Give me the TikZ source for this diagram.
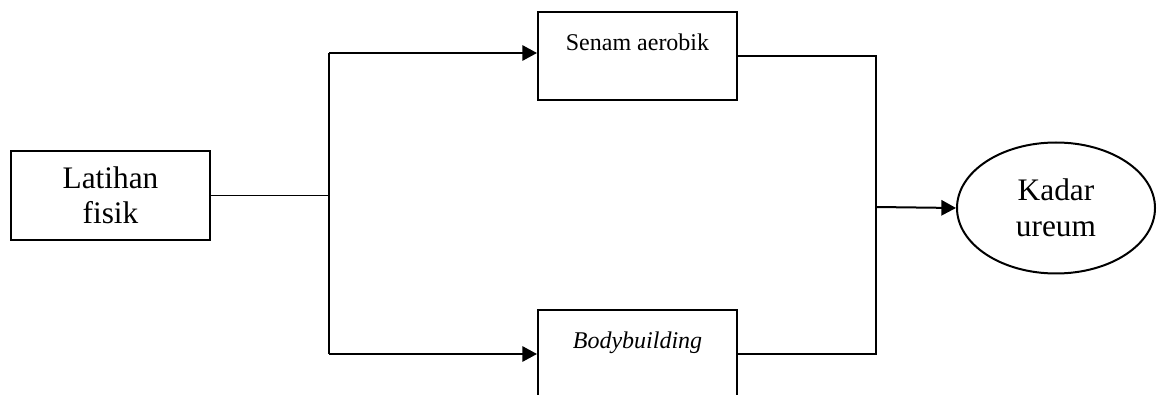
\documentclass[tikz,border=0pt]{standalone}
\usepackage{fontspec}
\setmainfont{Liberation Serif}
\usetikzlibrary{calc,positioning,shapes.geometric,arrows.meta}
\tikzset{
    box/.style={
        draw,
        rectangle,
        line width=1.5pt,
        minimum width=149.25pt,
        minimum height=66.75pt,
        inner sep=0pt,
        align=center,
        font=\fontsize{23.5pt}{26.6pt}\selectfont
    },
    topbox/.style={
        draw,
        rectangle,
        line width=1.5pt,
        minimum width=149.25pt,
        inner sep=0pt,
        text height=29.25pt,
        text depth=36.75pt,
        font=\fontsize{18pt}{21pt}\selectfont
    },
    oval/.style={
        draw,
        ellipse,
        line width=1.5pt,
        minimum width=148.5pt,
        minimum height=98.25pt,
        inner sep=0pt,
        align=center,
        font=\fontsize{23.5pt}{27pt}\selectfont
    },
    link/.style={line width=0.8pt},
    feed/.style={->,line width=1.5pt}
}

\begin{document}
\begin{tikzpicture}[x=0.75pt,y=-0.75pt,>={Triangle[length=11pt,width=11.5pt]}]
        \useasboundingbox (0,0) rectangle (1157,395);

        \node[box] (Latihan) at (110.5,195.5) {Latihan\\fisik};

            \node[topbox,above right=36.75pt and 244.5pt of Latihan] (Senam) {Senam aerobik};

                \node[topbox,below=156pt of Senam] (Body) {\textit{Bodybuilding}};

                    \node[oval] (Kadar) at (1056,208) {Kadar\\ureum};

                        \draw[link] (Latihan.east) -- ++(118,0) coordinate (split);
                        \draw[link] ([yshift=2.25pt]split |- Senam.west) -- (split |- Body.west);
                        \draw[feed] ([yshift=2.25pt]split |- Senam.west) -- ([yshift=2.25pt]Senam.west);
                        \draw[feed] (split |- Body.west) -- (Body.west);
                        \coordinate (merge) at (876,207);
                        \draw[link] (Senam.east) -| (merge);
                        \draw[link] (Body.east) -| (merge);
                        \draw[feed] (merge) -- (Kadar.west);
    \end{tikzpicture}
\end{document}
